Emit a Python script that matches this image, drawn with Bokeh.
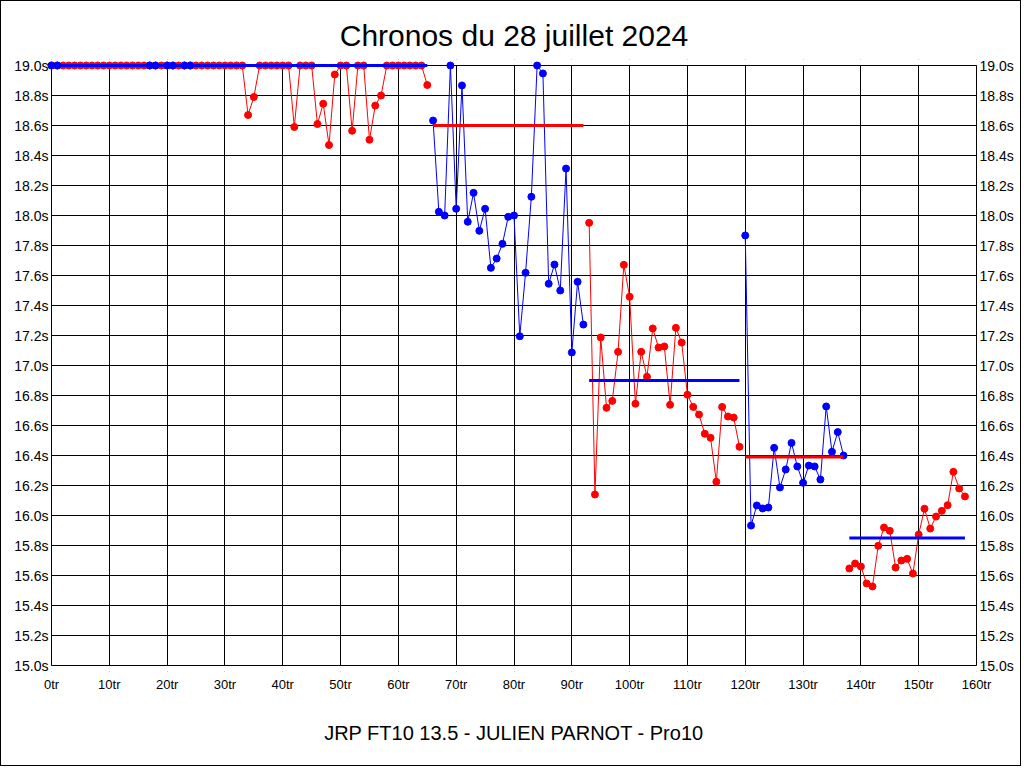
from bokeh.plotting import figure
from bokeh.models import LinearAxis, FixedTicker, CustomJSTickFormatter, Range1d, BoxAnnotation
from bokeh.embed import file_html
from bokeh.resources import INLINE

TITLE = "Chronos du 28 juillet 2024"
FOOTER = "JRP FT10 13.5 - JULIEN PARNOT - Pro10"

x_ticks = list(range(0, 161, 10))
y_ticks = [round(15.0 + 0.2 * i, 1) for i in range(21)]

# lap times per stint (one value per lap, starting at stint_start)
stint1 = ([19.0] * 34 + [18.67, 18.79] + [19.0] * 6 + [18.59] + [19.0] * 3 +
          [18.61, 18.745, 18.47, 18.94] + [19.0] * 2 + [18.565] + [19.0] * 2 +
          [18.505, 18.733, 18.80] + [19.0] * 7 + [18.87])
stint2 = [18.633, 18.025, 18.0, 19.0, 18.045, 18.867, 17.958, 18.151, 17.898,
          18.045, 17.651, 17.713, 17.811, 17.991, 18.0, 17.195, 17.618, 18.125,
          19.0, 18.947, 17.545, 17.673, 17.5, 18.313, 17.087, 17.558, 17.273]
stint3 = [17.951, 16.14, 17.187, 16.718, 16.764, 17.091, 17.671, 17.458, 16.745,
          17.091, 16.925, 17.247, 17.12, 17.127, 16.738, 17.251, 17.153, 16.805,
          16.724, 16.673, 16.545, 16.518, 16.225, 16.724, 16.66, 16.653, 16.458]
stint4 = [17.867, 15.933, 16.067, 16.047, 16.053, 16.451, 16.187, 16.307, 16.484,
          16.327, 16.218, 16.333, 16.327, 16.24, 16.727, 16.425, 16.556, 16.4]
stint5 = [15.647, 15.68, 15.66, 15.547, 15.527, 15.798, 15.92, 15.898, 15.653,
          15.7, 15.711, 15.613, 15.873, 16.045, 15.913, 15.993, 16.031, 16.069,
          16.291, 16.18, 16.127]

stints = [stint1, stint2, stint3, stint4, stint5]
stint_start = [0, 66, 93, 120, 138]
stint_color = ["#ff0000", "#0000ff", "#ff0000", "#0000ff", "#ff0000"]
stint_ref = [19.0, 18.6, 16.9, 16.39, 15.85]
stint_ref_color = ["#0000ff", "#ff0000", "#0000ff", "#ff0000", "#0000ff"]
stint1_blue_laps = [0, 1, 17, 18, 20, 21, 23, 24]

FONT = "Liberation Sans"

# plot area: 925 x 600 px for the axis extent, plus a small padding so that
# markers on the edges are not clipped
PW, PH, PAD = 925, 600, 6
x0, x1 = x_ticks[0], x_ticks[-1]
y0, y1 = y_ticks[0], y_ticks[-1]
xpad = PAD * (x1 - x0) / PW
ypad = PAD * (y1 - y0) / PH

p = figure(frame_width=PW + 2 * PAD, frame_height=PH + 2 * PAD, output_backend="svg",
           toolbar_location=None,
           x_range=Range1d(x0 - xpad, x1 + xpad), y_range=Range1d(y0 - ypad, y1 + ypad),
           min_border_left=44, min_border_right=38, min_border_top=58,
           min_border_bottom=94, background_fill_color="white",
           border_fill_color="white")
p.styles = {"border": "1px solid black", "box-sizing": "border-box"}

p.title.text = TITLE
p.title.align = "center"
p.title.text_font = FONT
p.title.text_font_size = "30px"
p.title.text_font_style = "normal"
p.title.text_color = "black"
p.title.standoff = 16

yfmt = CustomJSTickFormatter(code="return tick.toFixed(1) + 's';")
xfmt = CustomJSTickFormatter(code="return tick.toFixed(0) + 'tr';")

p.xaxis.ticker = FixedTicker(ticks=x_ticks)
p.xaxis.formatter = xfmt
p.yaxis.ticker = FixedTicker(ticks=y_ticks)
p.yaxis.formatter = yfmt
p.add_layout(LinearAxis(ticker=FixedTicker(ticks=y_ticks), formatter=yfmt), "right")

for ax in p.axis:
    ax.axis_line_color = None
    ax.major_tick_line_color = None
    ax.minor_tick_line_color = None
    ax.major_tick_in = 0
    ax.major_tick_out = 0
    ax.minor_tick_in = 0
    ax.minor_tick_out = 0
    ax.major_label_text_font = FONT
    ax.major_label_text_color = "black"
for ax in p.yaxis:
    ax.major_label_text_font_size = "14px"
    ax.major_label_standoff = -3
p.xaxis.major_label_text_font_size = "13px"
p.xaxis.major_label_standoff = 5
p.xaxis.axis_label = FOOTER
p.xaxis.axis_label_text_font = FONT
p.xaxis.axis_label_text_font_size = "20px"
p.xaxis.axis_label_text_font_style = "normal"
p.xaxis.axis_label_text_color = "black"
p.xaxis.axis_label_standoff = 27

p.xgrid.ticker = FixedTicker(ticks=x_ticks)
p.ygrid.ticker = FixedTicker(ticks=y_ticks)
p.grid.grid_line_color = "black"
p.grid.grid_line_alpha = 1.0
p.grid.grid_line_width = 1
p.outline_line_color = None

# hide grid stubs in the padding
for kw in (dict(top=y0), dict(bottom=y1), dict(right=x0), dict(left=x1)):
    p.add_layout(BoxAnnotation(fill_color="white", fill_alpha=1.0, line_color=None,
                               level="underlay", **kw))

# plot area border
p.line([x0, x1, x1, x0, x0], [y0, y0, y1, y1, y0], line_color="black", line_width=1)

for vals, start, col in zip(stints, stint_start, stint_color):
    laps = list(range(start, start + len(vals)))
    p.line(laps, vals, line_color=col, line_width=1)
    p.scatter(laps, vals, size=7, fill_color=col, line_color=col)

blue_vals = [stint1[i] for i in stint1_blue_laps]
p.scatter(stint1_blue_laps, blue_vals, size=7, fill_color="#0000ff", line_color="#0000ff")

for vals, start, ref, col in zip(stints, stint_start, stint_ref, stint_ref_color):
    end = start + len(vals) - 1
    p.line([start, end], [ref, ref], line_color=col, line_width=3)

open("out.html", "w").write(file_html(p, INLINE))
